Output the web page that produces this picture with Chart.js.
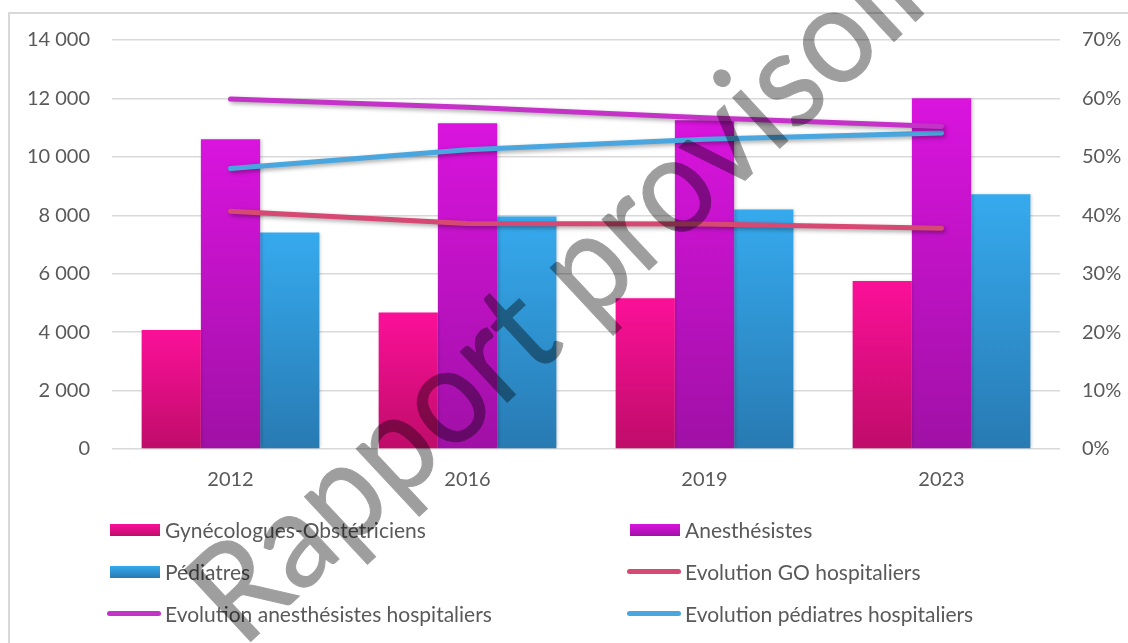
<!DOCTYPE html>
<html lang="fr">
<head>
    <meta charset="UTF-8">
    <title>Effectifs et part hospitaliers</title>
    <script src="https://cdn.jsdelivr.net/npm/chart.js"></script>
    <style>
        body { margin: 0; background: #fff; }
        .wrap { position: relative; width: 1128px; height: 643px; overflow: hidden; font-family: Lato, sans-serif; }
        .frame { position: absolute; left: 8px; top: 12px; width: 1300px; height: 800px;
                 border-left: 2px solid #d9d9d9; border-top: 2px solid #d9d9d9; }
        canvas { position: absolute; left: 0; top: 0; }
        .legend { position: absolute; left: 106px; top: 517px; display: grid;
                  grid-template-columns: 520px 420px; row-gap: 17px; color: #595959; font-size: 21px; }
        .item { display: flex; align-items: center; height: 25px; white-space: nowrap; }
        .sw { display: inline-block; width: 50px; height: 12px; margin: 0 5px 0 4px; }
        .sw.line { height: 5px; border-radius: 3px; width: 54px; margin: 0 4px 0 1px; }
        /* baseline-left of the "R" sits at (245, 650) */
        .watermark { position: absolute; left: 243px; top: 538px;
                     transform-origin: 0 112px; transform: rotate(-43deg) scaleY(1.08);
                     font-size: 126px; line-height: 1; white-space: nowrap; color: #000;
                     -webkit-text-stroke: 1px #000; opacity: 0.38;
                     font-family: Lato, sans-serif; pointer-events: none; }
    </style>
</head>
<body>
    <div class="wrap">
        <div class="frame"></div>
        <canvas id="chart" width="1128" height="643"></canvas>
        <div class="legend" id="legend"></div>
        <div class="watermark">Rapport provisoire</div>
    </div>

    <script>
        // data
        const years = ['2012', '2016', '2019', '2023'];
        const gynecos = [4070, 4670, 5160, 5750];
        const anesth = [10600, 11150, 11250, 12010];
        const pediatres = [7410, 7960, 8200, 8720];
        const evolGO = [40.7, 38.6, 38.5, 37.8];
        const evolAnesth = [59.9, 58.5, 56.7, 55.2];
        const evolPed = [48.0, 51.2, 53.0, 54.1];
        const leftTicks = [0, 2000, 4000, 6000, 8000, 10000, 12000, 14000];
        const rightTicks = [0, 10, 20, 30, 40, 50, 60, 70];

        // bar gradients top -> bottom
        const pinkGrad = ['#fb1098', '#bf0c6a'];
        const purpleGrad = ['#d914de', '#a010a6'];
        const blueGrad = ['#36aaee', '#287ab2'];

        function barFill(colors) {
            return (ctx) => {
                const chart = ctx.chart;
                if (!chart.chartArea || ctx.type !== 'data') return colors[0];
                const y = chart.scales.y;
                const top = y.getPixelForValue(ctx.raw);
                const bottom = y.getPixelForValue(0);
                const g = chart.ctx.createLinearGradient(0, top, 0, bottom);
                g.addColorStop(0, colors[0]);
                g.addColorStop(1, colors[1]);
                return g;
            };
        }

        const fmt = (v) => String(v).replace(/\B(?=(\d{3})+(?!\d))/g, ' ');

        const shadowPlugin = {
            id: 'shadow',
            beforeDatasetDraw(chart, args) {
                const c = chart.ctx;
                c.save();
                const isLine = args.meta.type === 'line';
                c.shadowColor = isLine ? 'rgba(0,0,0,0.35)' : 'rgba(0,0,0,0.18)';
                c.shadowBlur = isLine ? 4 : 3;
                c.shadowOffsetX = isLine ? 2 : 1.5;
                c.shadowOffsetY = isLine ? 2 : 0;
            },
            afterDatasetDraw(chart) {
                chart.ctx.restore();
            }
        };

        const chart = new Chart(document.getElementById('chart'), {
            data: {
                labels: years,
                datasets: [
                    { type: 'bar', label: 'Gynécologues-Obstétriciens', data: gynecos, backgroundColor: barFill(pinkGrad), grad: pinkGrad, yAxisID: 'y', order: 1 },
                    { type: 'bar', label: 'Anesthésistes', data: anesth, backgroundColor: barFill(purpleGrad), grad: purpleGrad, yAxisID: 'y', order: 1 },
                    { type: 'bar', label: 'Pédiatres', data: pediatres, backgroundColor: barFill(blueGrad), grad: blueGrad, yAxisID: 'y', order: 1 },
                    { type: 'line', label: 'Evolution GO hospitaliers', data: evolGO, borderColor: '#d64973', yAxisID: 'y1', order: 0 },
                    { type: 'line', label: 'Evolution anesthésistes hospitaliers', data: evolAnesth, borderColor: '#c532c8', yAxisID: 'y1', order: 0 },
                    { type: 'line', label: 'Evolution pédiatres hospitaliers', data: evolPed, borderColor: '#4aa6de', yAxisID: 'y1', order: 0 }
                ]
            },
            options: {
                responsive: false,
                animation: false,
                layout: { padding: { top: 40, bottom: 0, left: 0, right: 0 } },
                datasets: {
                    bar: { categoryPercentage: 0.75, barPercentage: 1, borderWidth: 0 },
                    line: { borderWidth: 5, pointRadius: 0, borderCapStyle: 'round', borderJoinStyle: 'round', tension: 0, fill: false }
                },
                plugins: { legend: { display: false }, tooltip: { enabled: false } },
                scales: {
                    x: {
                        grid: { display: false, drawTicks: false },
                        border: { display: false },
                        ticks: { color: '#595959', font: { family: 'Lato', size: 20 }, padding: 19 },
                        afterFit: (s) => { s.height = 194; }
                    },
                    y: {
                        position: 'left',
                        min: 0, max: 14000,
                        afterBuildTicks: (s) => { s.ticks = leftTicks.map(v => ({ value: v })); },
                        grid: { color: '#d9d9d9', lineWidth: 1.5, drawTicks: false },
                        border: { display: false },
                        ticks: { color: '#595959', font: { family: 'Lato', size: 20 }, padding: 22, callback: fmt },
                        afterFit: (s) => { s.width = 112; }
                    },
                    y1: {
                        position: 'right',
                        min: 0, max: 70,
                        afterBuildTicks: (s) => { s.ticks = rightTicks.map(v => ({ value: v })); },
                        grid: { display: false, drawTicks: false },
                        border: { display: false },
                        ticks: { color: '#595959', font: { family: 'Lato', size: 20 }, padding: 22, callback: (v) => v + '%' },
                        afterFit: (s) => { s.width = 68; }
                    }
                }
            },
            plugins: [shadowPlugin]
        });

        // legend, two columns like the original
        const legend = document.getElementById('legend');
        chart.data.datasets.forEach((ds) => {
            const item = document.createElement('div');
            item.className = 'item';
            const sw = document.createElement('span');
            if (ds.type === 'bar') {
                sw.className = 'sw';
                sw.style.background = `linear-gradient(${ds.grad[0]}, ${ds.grad[1]})`;
            } else {
                sw.className = 'sw line';
                sw.style.background = ds.borderColor;
            }
            item.appendChild(sw);
            item.appendChild(document.createTextNode(ds.label));
            legend.appendChild(item);
        });
    </script>
</body>
</html>
